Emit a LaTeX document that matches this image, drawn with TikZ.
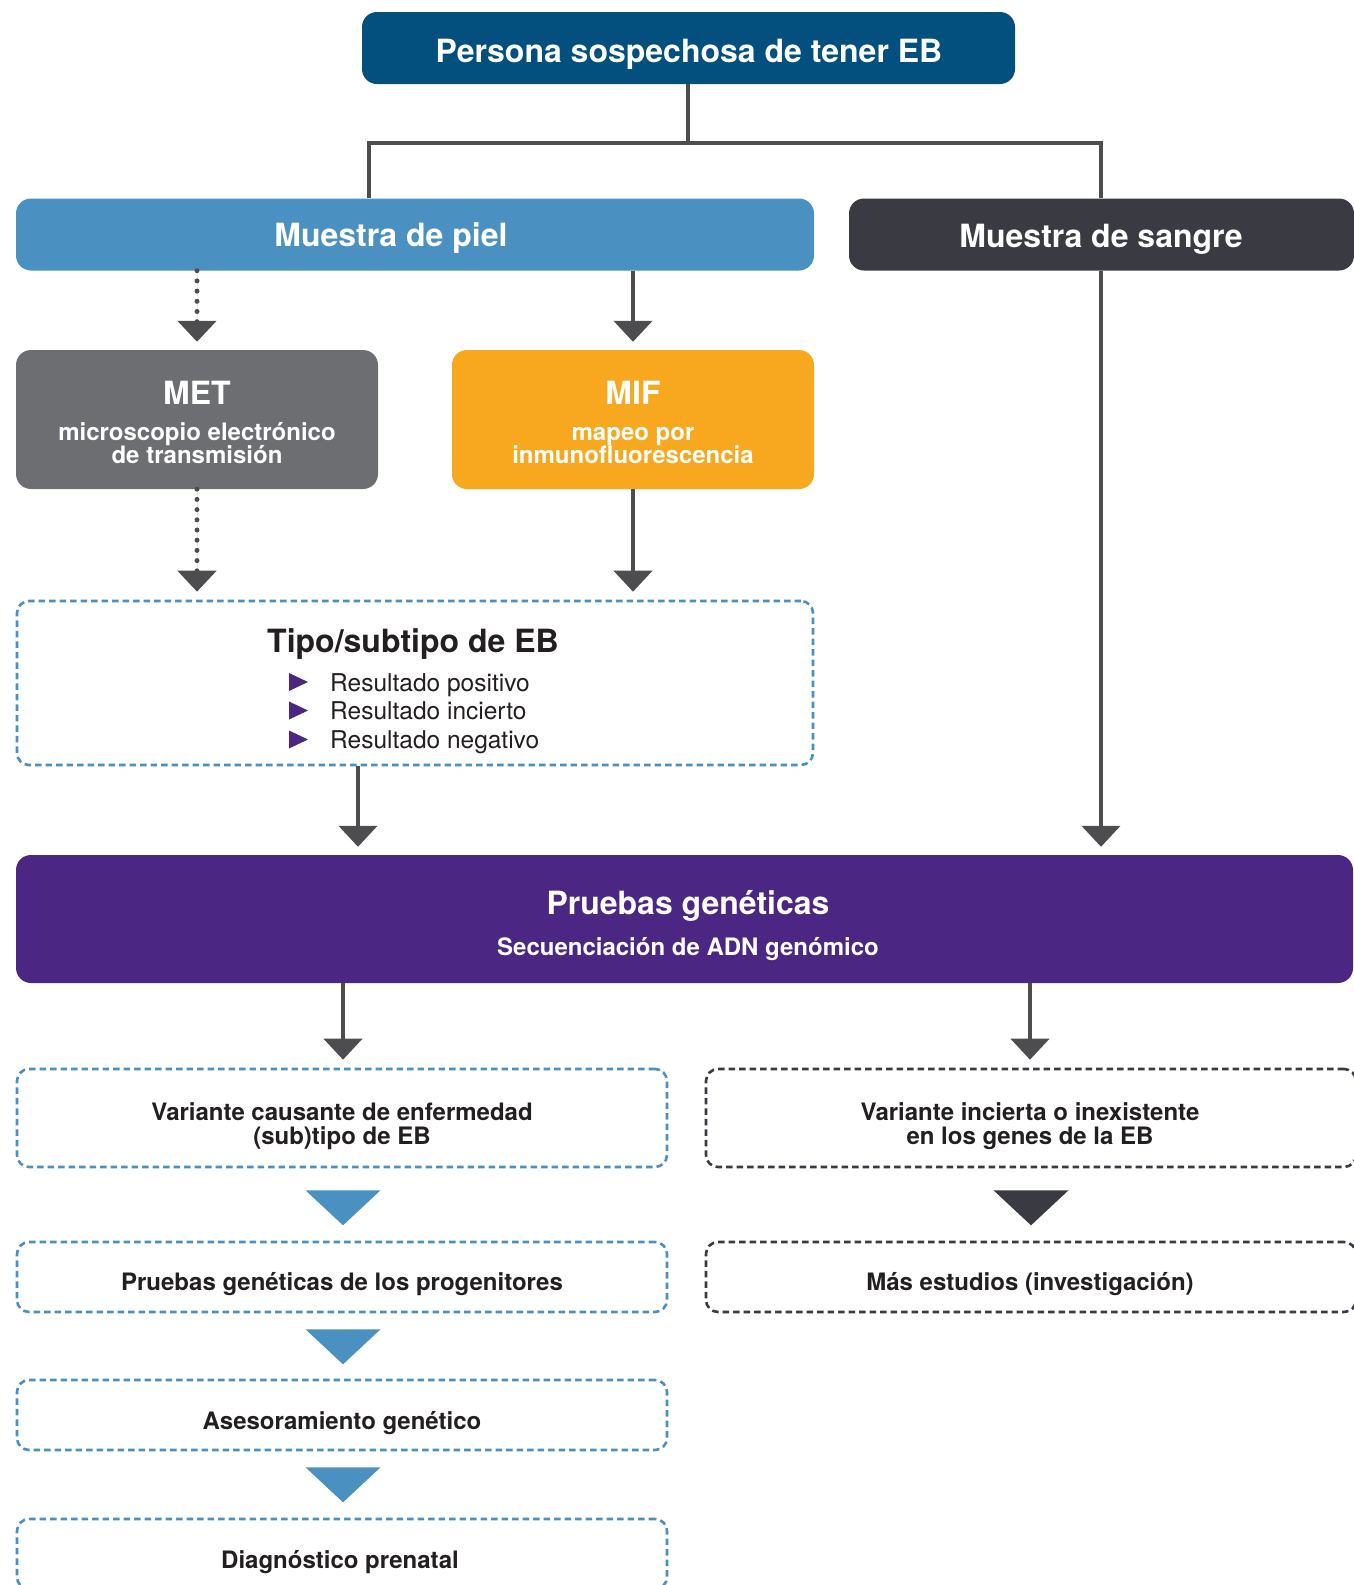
\documentclass[tikz,border=0pt]{standalone}
\usepackage{fontspec}
\setmainfont{TeX Gyre Heros}
\usetikzlibrary{arrows.meta,calc}
\definecolor{topblue}{HTML}{034F7D}
\definecolor{skinblue}{HTML}{4A91C1}
\definecolor{blooddark}{HTML}{393A42}
\definecolor{metgray}{HTML}{6D6E71}
\definecolor{miforange}{HTML}{F7A81E}
\definecolor{genpurple}{HTML}{4B2683}
\definecolor{linegray}{HTML}{4D4D4F}
\definecolor{textdark}{HTML}{231F20}
\begin{document}
\begin{tikzpicture}[x=1pt,y=-1pt,
  fillbox/.style={rounded corners=15pt, inner sep=0pt, text=white, align=center,
    font=\bfseries\fontsize{32}{36}\selectfont},
  dashbox/.style={rounded corners=12pt, inner sep=0pt, line width=2.6pt,
    dash pattern=on 6.5pt off 4pt, align=center, text=textdark,
    font=\bfseries\fontsize{24}{25}\selectfont},
  bigtxt/.style={inner sep=0pt, anchor=base, text=white, font=\bfseries\fontsize{32}{36}\selectfont},
  smalltxt/.style={inner sep=0pt, anchor=base, text=white, align=center, font=\bfseries\fontsize{24}{24}\selectfont},
  conn/.style={draw=linegray, line width=4.5pt},
  arr/.style={draw=linegray, line width=4.5pt, -{Triangle[width=38pt,length=21pt]}, shorten >=8pt, fill=linegray},
  dotarr/.style={arr, dash pattern=on 0pt off 10.2pt, line cap=round, line width=5pt},
  bullet/.style={fill=genpurple},
  bigtri/.style={fill=#1}
]
\useasboundingbox (0,0) rectangle (1354,1585);
\clip (0,0) rectangle (1354,1585);

% top
\node[fillbox, fill=topblue, minimum width=653pt, minimum height=72pt] (top) at (688.5,48) {};
\node[bigtxt] (topT) at (689,62.5) {Persona sospechosa de tener EB};

% samples
\node[fillbox, fill=skinblue, minimum width=798pt, minimum height=72pt] (piel) at (415,234.5) {};
\node[bigtxt] (pielT) at (391,246.5) {Muestra de piel};
\node[fillbox, fill=blooddark, minimum width=505pt, minimum height=72pt] (sangre) at (1101.5,234.5) {};
\node[bigtxt] (sangreT) at (1101,247) {Muestra de sangre};

% top connectors
\coordinate (split) at (688,143);
\draw[conn] (top.south -| split) -- (split);
\draw[conn] (369,143) -- (1101,143);
\draw[conn] (369,141) -- (piel.north -| 369,0);
\draw[conn] (1101,141) -- (sangre.north -| 1101,0);

% MET / MIF
\node[fillbox, fill=metgray, minimum width=362pt, minimum height=139pt] (met) at (197,419.5) {};
\node[bigtxt] (metT) at (197,404) {MET};
\node[smalltxt] (metS) at (197,440) {microscopio electrónico};
\node[smalltxt] (metS2) at (197,463) {de transmisión};
\node[fillbox, fill=miforange, minimum width=362pt, minimum height=139pt] (mif) at (633,419.5) {};
\node[bigtxt] (mifT) at (633,404) {MIF};
\node[smalltxt] (mifS) at (633,440) {mapeo por};
\node[smalltxt] (mifS2) at (633,463) {inmunofluorescencia};

\draw[dotarr] (piel.south -| met.north) -- (met.north);
\draw[arr] (piel.south -| mif.north) -- (mif.north);

% Tipo box
\node[dashbox, draw=skinblue, minimum width=796pt, minimum height=164pt] (tipo) at (415,683) {};
\node[inner sep=0pt, anchor=base, text=textdark, font=\bfseries\fontsize{32}{36}\selectfont] (tipoT) at (413,652) {Tipo/subtipo de EB};
\foreach \y/\t [count=\i] in {691/Resultado positivo, 719.5/Resultado incierto, 748.5/Resultado negativo}{
  \node[inner sep=0pt, anchor=base west, text=textdark, font=\fontsize{24.5}{25}\selectfont] (r\i) at (330,\y) {\t};
  \fill[bullet] (289,\y-18) -- (308,\y-9) -- (289,\y) -- cycle;
}

\draw[dotarr] (met.south) -- (met.south |- tipo.north);
\draw[arr] (mif.south) -- (mif.south |- tipo.north);

% Pruebas geneticas
\node[fillbox, fill=genpurple, minimum width=1337pt, minimum height=128pt] (gen) at (684.5,919) {};
\node[bigtxt] (genT) at (688,914) {Pruebas genéticas};
\node[smalltxt] (genS) at (688,955) {Secuenciación de ADN genómico};

\draw[arr] (tipo.south -| 358,0) -- (gen.north -| 358,0);
\draw[arr] (sangre.south -| 1101,0) -- (gen.north -| 1101,0);

% left column
\node[dashbox, draw=skinblue, minimum width=650pt, minimum height=98pt] (v1) at (342,1118) {};
\node[smalltxt, text=textdark] (v1T) at (342,1120) {Variante causante de enfermedad};
\node[smalltxt, text=textdark] (v1T2) at (342,1144) {(sub)tipo de EB};
\node[dashbox, draw=skinblue, minimum width=650pt, minimum height=70pt] (p1) at (342,1277) {};
\node[smalltxt, text=textdark] (p1T) at (342,1290) {Pruebas genéticas de los progenitores};
\node[dashbox, draw=skinblue, minimum width=650pt, minimum height=70pt] (a1) at (342,1415) {};
\node[smalltxt, text=textdark] (a1T) at (342,1429) {Asesoramiento genético};
\node[dashbox, draw=skinblue, minimum width=650pt, minimum height=70pt] (d1) at (342,1554) {};
\node[smalltxt, text=textdark] (d1T) at (340,1568) {Diagnóstico prenatal};

% right column
\node[dashbox, draw=blooddark, minimum width=650pt, minimum height=98pt] (v2) at (1031,1118) {};
\node[smalltxt, text=textdark] (v2T) at (1030,1120) {Variante incierta o inexistente};
\node[smalltxt, text=textdark] (v2T2) at (1030,1144) {en los genes de la EB};
\node[dashbox, draw=blooddark, minimum width=650pt, minimum height=70pt] (p2) at (1031,1277) {};
\node[smalltxt, text=textdark] (p2T) at (1030,1290) {Más estudios (investigación)};

\draw[arr] (gen.south -| 343,0) -- (v1.north -| 343,0);
\draw[arr] (gen.south -| 1030,0) -- (v2.north -| 1030,0);

% big triangles
\fill[bigtri=skinblue] ($(v1.south -| 343,0)+(-37.5,22)$) -- ++(75,0) -- ($(v1.south -| 343,0)+(0,57)$) -- cycle;
\fill[bigtri=skinblue] ($(p1.south -| 343,0)+(-37.5,16)$) -- ++(75,0) -- ($(p1.south -| 343,0)+(0,51)$) -- cycle;
\fill[bigtri=skinblue] ($(a1.south -| 343,0)+(-37.5,16)$) -- ++(75,0) -- ($(a1.south -| 343,0)+(0,51)$) -- cycle;
\fill[bigtri=blooddark] ($(v2.south -| 1031,0)+(-37.5,22)$) -- ++(75,0) -- ($(v2.south -| 1031,0)+(0,57)$) -- cycle;
\end{tikzpicture}
\end{document}
